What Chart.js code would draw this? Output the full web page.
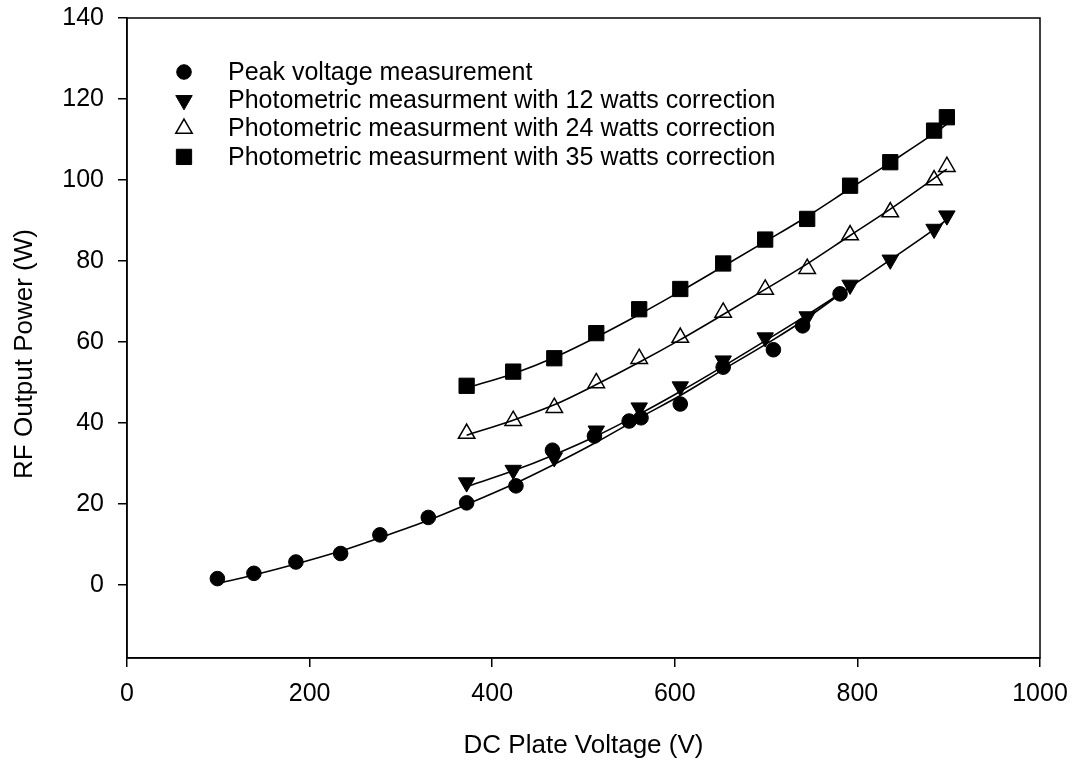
<!DOCTYPE html>
<html>
<head>
<meta charset="utf-8">
<script src="https://cdn.jsdelivr.net/npm/chart.js@4.4.1/dist/chart.umd.min.js"></script>
<style>
  html, body { margin: 0; padding: 0; background: #fff; }
  #wrap { width: 1076px; height: 766px; position: relative; }
</style>
</head>
<body>
<div id="wrap"><canvas id="chart"></canvas></div>
<script>
// Measured points
const peakV = [99, 139, 185, 234, 277, 330, 372, 426, 466, 512, 550, 563, 606, 653, 708, 740, 781];
const peakP = [1.6, 2.9, 5.7, 7.8, 12.4, 16.7, 20.3, 24.5, 33.3, 36.8, 40.5, 41.3, 44.7, 53.8, 58.1, 64.0, 71.9];

const photoV = [372, 423, 468, 514, 561, 606, 653, 699, 745, 792, 836, 884, 898];
const photo12 = [25.3, 28.4, 31.5, 38.1, 43.8, 49.0, 55.4, 61.1, 66.3, 74.1, 80.3, 87.9, 91.2];
const photo24 = [37.4, 40.6, 43.8, 49.9, 55.9, 61.1, 67.3, 73.0, 78.1, 86.4, 92.1, 100.0, 103.3];
const photo35 = [49.2, 52.7, 56.0, 62.2, 68.1, 73.1, 79.4, 85.3, 90.4, 98.6, 104.4, 112.2, 115.5];

// Fitted curves
const peakFitV = [99, 139, 185, 234, 277, 330, 372, 426, 466, 512, 563, 606, 653, 708, 740, 781];
const peakFit = [0.4, 2.5, 5.2, 8.4, 11.7, 16.0, 19.9, 25.2, 29.6, 35.0, 41.5, 46.8, 53.2, 60.6, 65.2, 71.8];
const fit12 = [24.3, 28.2, 32.2, 36.8, 42.2, 47.8, 54.0, 60.3, 66.7, 73.6, 80.3, 87.8, 90.2];
const fit24 = [37.0, 40.7, 44.5, 49.5, 55.0, 60.6, 66.8, 73.0, 79.3, 86.3, 92.8, 100.4, 102.7];
const fit35 = [48.7, 52.2, 56.2, 61.2, 66.8, 72.5, 78.7, 84.8, 91.0, 97.9, 104.3, 111.5, 113.8];

const seriesNames = [
  'Peak voltage measurement',
  'Photometric measurment with 12 watts correction',
  'Photometric measurment with 24 watts correction',
  'Photometric measurment with 35 watts correction'
];

const xTitle = 'DC Plate Voltage (V)';
const yTitle = 'RF Output Power (W)';
const xTicks = [0, 200, 400, 600, 800, 1000];
const yTicks = [0, 20, 40, 60, 80, 100, 120, 140];

const FONT = '"Liberation Sans", Arial, sans-serif';
const pts = (xs, ys) => xs.map((x, i) => ({ x: x, y: ys[i] }));

const markerSets = [
  { label: seriesNames[0], data: pts(peakV, peakP), pointStyle: 'circle', pointRadius: 7.3,
    backgroundColor: '#000', borderColor: '#000', pointBorderWidth: 1, rotation: 0 },
  { label: seriesNames[1], data: pts(photoV, photo12), pointStyle: 'triangle', pointRadius: 9.5,
    backgroundColor: '#000', borderColor: '#000', pointBorderWidth: 1, rotation: 180 },
  { label: seriesNames[2], data: pts(photoV, photo24), pointStyle: 'triangle', pointRadius: 9.5,
    backgroundColor: 'rgba(255,255,255,0)', borderColor: '#000', pointBorderWidth: 1.5, rotation: 0 },
  { label: seriesNames[3], data: pts(photoV, photo35), pointStyle: 'rect', pointRadius: 10.8,
    backgroundColor: '#000', borderColor: '#000', pointBorderWidth: 1, rotation: 0 }
];

const lineSet = (xs, ys) => ({
  data: pts(xs, ys),
  showLine: true,
  pointRadius: 0,
  borderColor: '#000',
  borderWidth: 1.6,
  cubicInterpolationMode: 'monotone'
});

const datasets = [
  lineSet(peakFitV, peakFit),
  lineSet(photoV, fit12),
  lineSet(photoV, fit24),
  lineSet(photoV, fit35)
].concat(markerSets.map(m => ({
  label: m.label,
  data: m.data,
  showLine: false,
  pointStyle: m.pointStyle,
  pointRadius: m.pointRadius,
  pointRotation: m.rotation,
  pointBackgroundColor: m.backgroundColor,
  pointBorderColor: m.borderColor,
  pointBorderWidth: m.pointBorderWidth,
  backgroundColor: m.backgroundColor,
  borderColor: m.borderColor
})));

// Legend drawn inside the plot area, top-left
const insideLegend = {
  id: 'insideLegend',
  afterDatasetsDraw(chart) {
    const ctx = chart.ctx;
    ctx.save();
    ctx.font = '25px ' + FONT;
    ctx.textBaseline = 'middle';
    ctx.textAlign = 'left';
    markerSets.forEach((m, i) => {
      const y = 72 + i * 28.3;
      ctx.fillStyle = m.backgroundColor;
      ctx.strokeStyle = m.borderColor;
      ctx.lineWidth = m.pointBorderWidth;
      Chart.helpers.drawPoint(ctx, {
        pointStyle: m.pointStyle,
        radius: m.pointRadius,
        rotation: m.rotation,
        borderWidth: m.pointBorderWidth
      }, 184, y);
      ctx.fillStyle = '#000';
      ctx.fillText(m.label, 228, y + 1);
    });
    ctx.restore();
  }
};

// Frame around the plot area and the two axis titles
const frame = {
  id: 'frame',
  afterDraw(chart) {
    const a = chart.chartArea;
    const ctx = chart.ctx;
    ctx.save();
    ctx.strokeStyle = '#000';
    ctx.lineWidth = 1.5;
    ctx.strokeRect(a.left, a.top, a.right - a.left, a.bottom - a.top);

    ctx.fillStyle = '#000';
    ctx.font = '26px ' + FONT;
    ctx.textAlign = 'center';
    ctx.textBaseline = 'middle';
    ctx.fillText(xTitle, (a.left + a.right) / 2, 746);
    ctx.translate(25, 354);
    ctx.rotate(-Math.PI / 2);
    ctx.fillText(yTitle, 0, 0);
    ctx.restore();
  }
};

new Chart(document.getElementById('chart'), {
  type: 'scatter',
  data: { datasets: datasets },
  plugins: [insideLegend, frame],
  options: {
    responsive: true,
    maintainAspectRatio: false,
    animation: false,
    layout: { padding: { top: 18, right: 36, left: 0, bottom: 0 } },
    plugins: {
      legend: { display: false },
      tooltip: { enabled: false }
    },
    scales: {
      x: {
        type: 'linear',
        min: 0,
        max: 1000,
        afterBuildTicks: (s) => { s.ticks = xTicks.map(v => ({ value: v })); },
        afterFit: (s) => { s.height = 108; s.paddingLeft = 0; s.paddingRight = 0; },
        ticks: {
          color: '#000',
          padding: 12,
          maxRotation: 0,
          callback: (v) => String(v),
          font: { family: FONT, size: 25 }
        },
        grid: { drawOnChartArea: false, drawTicks: true, tickLength: 9, color: '#000', lineWidth: 1.5 },
        border: { display: true, color: '#000', width: 1.5 }
      },
      y: {
        type: 'linear',
        min: -18,
        max: 140,
        afterBuildTicks: (s) => { s.ticks = yTicks.map(v => ({ value: v })); },
        afterFit: (s) => { s.width = 127; s.paddingTop = 0; s.paddingBottom = 0; },
        ticks: {
          color: '#000',
          padding: 14,
          callback: (v) => String(v),
          font: { family: FONT, size: 25 }
        },
        grid: { drawOnChartArea: false, drawTicks: true, tickLength: 9, color: '#000', lineWidth: 1.5 },
        border: { display: true, color: '#000', width: 1.5 }
      }
    }
  }
});
</script>
</body>
</html>
